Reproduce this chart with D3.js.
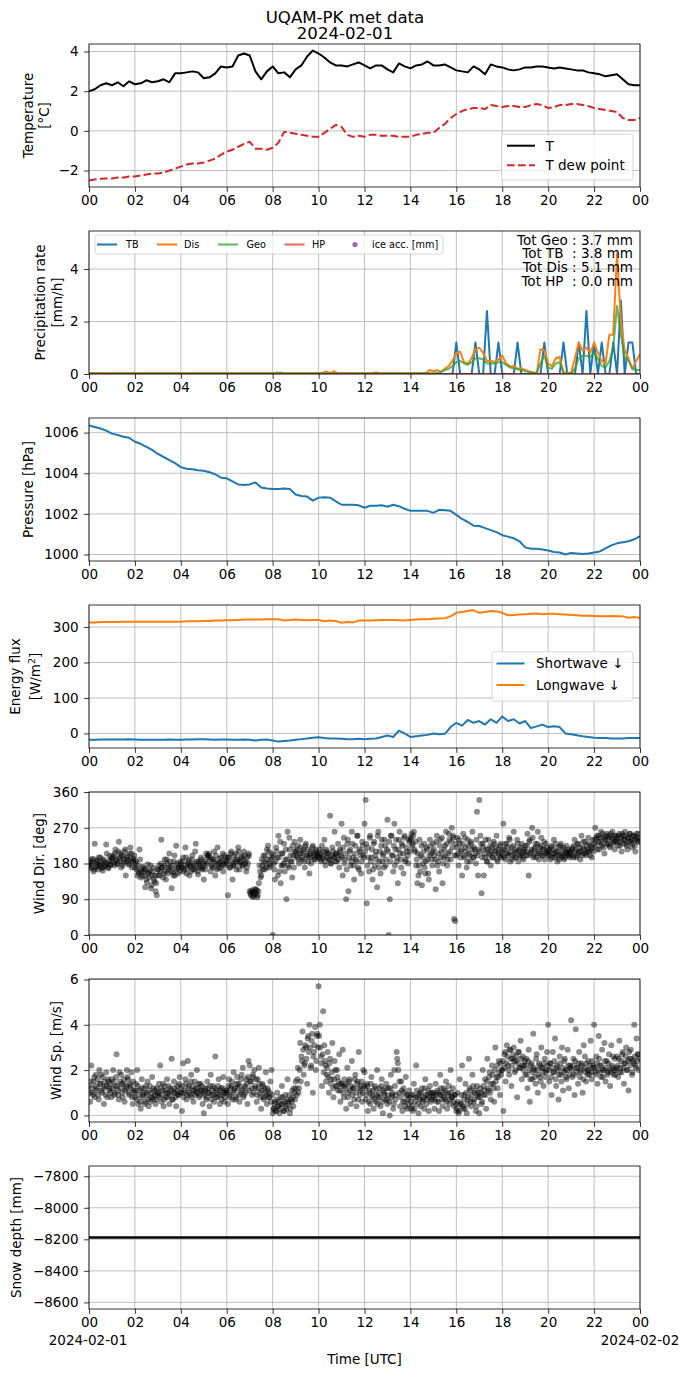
<!DOCTYPE html>
<html>
<head>
<meta charset="utf-8">
<script src="https://cdn.jsdelivr.net/npm/d3@7"></script>
<style>
  body { margin: 0; background: #fff; }
  svg { font-family: "DejaVu Sans", sans-serif; }
</style>
</head>
<body>
<svg id="chart" width="690" height="1377"></svg>
<script>
// ---- data ----
const hourTicks = [0, 2, 4, 6, 8, 10, 12, 14, 16, 18, 20, 22, 24];

// 15-minute samples, 00:00 .. 24:00
const airTemp = [
  2.0, 2.1, 2.3, 2.4,   2.3, 2.45, 2.25, 2.5,   2.35, 2.4, 2.55, 2.45,   2.5, 2.6, 2.45, 2.9,
  2.9, 2.95, 3.0, 2.95, 2.65, 2.7, 2.9, 3.25,   3.2, 3.25, 3.8, 3.9,     3.8, 3.0, 2.6, 3.0,
  3.25, 2.9, 2.95, 2.7, 3.1, 3.3, 3.75, 4.05,   3.9, 3.7, 3.45, 3.3,     3.3, 3.25, 3.35, 3.45,
  3.3, 3.15, 3.3, 3.3,  3.1, 2.95, 3.4, 3.25,   3.15, 3.3, 3.35, 3.5,    3.3, 3.3, 3.35, 3.2,
  3.05, 3.0, 2.95, 3.25, 3.1, 2.85, 3.35, 3.25, 3.2, 3.1, 3.05, 3.1,     3.2, 3.2, 3.25, 3.25,
  3.2, 3.15, 3.2, 3.15, 3.1, 3.05, 3.05, 2.95,  2.9, 2.85, 2.75, 2.8,    2.85, 2.6, 2.35, 2.3,
  2.3
];
const dewPoint = [
  -2.5, -2.45, -2.42, -2.4,  -2.4, -2.35, -2.35, -2.3,  -2.3, -2.25, -2.2, -2.15,  -2.15, -2.1, -2.0, -1.9,
  -1.8, -1.7, -1.65, -1.65,  -1.6, -1.5, -1.4, -1.2,    -1.05, -0.95, -0.8, -0.65, -0.55, -0.9, -0.9, -0.95,
  -0.85, -0.6, -0.05, -0.1,  -0.15, -0.2, -0.25, -0.3,  -0.3, -0.1, 0.1, 0.3,      0.2, -0.2, -0.3, -0.25,
  -0.3, -0.2, -0.2, -0.25,   -0.25, -0.25, -0.3, -0.3,  -0.3, -0.2, -0.15, -0.1,   -0.1, 0.15, 0.35, 0.65,
  0.85, 1.0, 1.1, 1.15,      1.15, 1.1, 1.3, 1.25,      1.2, 1.25, 1.25, 1.2,      1.2, 1.3, 1.35, 1.3,
  1.15, 1.2, 1.3, 1.3,       1.35, 1.35, 1.3, 1.25,     1.15, 1.1, 1.05, 1.0,      0.95, 0.65, 0.55, 0.55,
  0.65
];

// 10-minute samples, 00:00 .. 24:00 (mm/h)
const rateTB = [
  0,0,0,0,0,0, 0,0,0,0,0,0, 0,0,0,0,0,0, 0,0,0,0,0,0, 0,0,0,0,0,0, 0,0,0,0,0,0,
  0,0,0,0,0,0, 0,0,0,0,0,0, 0,0,0,0,0,0, 0,0,0,0,0,0, 0,0,0,0,0,0, 0,0,0,0,0,0,
  0,0,0,0,0,0, 0,0,0,0,0,0, 0,0,0,0,0,0, 0,0,0,0,0,0,
  1.2,0,0,0,0,1.2,   0,0,2.4,0,0,1.2,   0,0,0,0,1.2,0,   0,0,0,0,0,1.2,
  0,0,0,0,1.2,0,     0,0,1.2,0,2.4,0,   1.2,0,1.2,0,0,1.2, 0,2.8,0,1.2,1.2,0,
  0
];
const rateDis = [
  0.03,0.03,0.03,0.03,0.03,0.03, 0.03,0.03,0.03,0.03,0.03,0.03, 0.03,0.03,0.03,0.03,0.03,0.03,
  0.03,0.03,0.03,0.03,0.03,0.03, 0.03,0.03,0.03,0.03,0.03,0.03, 0.03,0.03,0.03,0.03,0.03,0.03,
  0.03,0.03,0.03,0.03,0.03,0.03, 0.03,0.03,0.03,0.03,0.03,0.03, 0.03,0.03,0.03,0.03,0.03,0.03,
  0.03,0.03,0.03,0.03,0.03,0.03, 0.03,0.03,0.1,0.03,0.1,0.03,   0.03,0.03,0.03,0.03,0.03,0.03,
  0.03,0.03,0.03,0.06,0.03,0.03, 0.03,0.03,0.03,0.03,0.03,0.03, 0.03,0.03,0.03,0.03,0.03,0.15,
  0.1,0.15,0.08,0.2,0.3,0.5,     0.8,0.85,0.45,0.4,0.6,0.95,    1.0,0.8,0.5,0.5,0.45,0.55,
  0.7,0.4,0.3,0.3,0.2,0.22,      0.15,0.1,0.05,0.0,0.95,0.9,    0.4,0.3,0.6,0.65,0.05,0.05,
  0.05,0.6,1.2,0.9,1.0,0.8,      1.2,0.8,0.5,0.4,1.5,1.5,       4.6,2.0,0.9,0.6,0.2,0.5,
  0.75
];
const rateGeo = [
  0.03,0.03,0.03,0.03,0.03,0.03, 0.03,0.03,0.03,0.03,0.03,0.03, 0.03,0.03,0.03,0.03,0.03,0.03,
  0.03,0.03,0.03,0.03,0.03,0.03, 0.03,0.03,0.03,0.03,0.03,0.03, 0.03,0.03,0.03,0.03,0.03,0.03,
  0.03,0.03,0.03,0.03,0.03,0.03, 0.03,0.03,0.03,0.03,0.03,0.03, 0.03,0.05,0.06,0.03,0.03,0.03,
  0.03,0.03,0.03,0.03,0.03,0.03, 0.03,0.03,0.03,0.03,0.03,0.03, 0.03,0.03,0.03,0.03,0.03,0.03,
  0.03,0.03,0.03,0.03,0.03,0.03, 0.03,0.03,0.03,0.03,0.03,0.03, 0.03,0.03,0.03,0.03,0.03,0.03,
  0.03,0.05,0.08,0.15,0.2,0.3,   0.45,0.5,0.4,0.35,0.45,0.6,    0.6,0.55,0.4,0.4,0.4,0.45,
  0.45,0.35,0.25,0.22,0.18,0.15, 0.1,0.08,0.05,0.05,0.4,0.7,    0.25,0.2,0.4,0.45,0.05,0.02,
  0.02,0.2,0.6,0.7,0.7,0.65,     0.8,0.6,0.3,0.25,0.5,1.0,      2.6,1.5,0.6,0.5,0.2,0.15,
  0.15
];
// hourly samples
const rateHP = [0,0,0,0,0,0,0,0,0,0,0,0,0,0,0,0,0,0,0,0,0,0,0,0,0];
const precipTotals = [
  "Tot Geo : 3.7 mm",
  "Tot TB  : 3.8 mm",
  "Tot Dis : 5.1 mm",
  "Tot HP  : 0.0 mm"
];

// 15-minute samples (hPa)
const pressure = [
  1006.35, 1006.28, 1006.2, 1006.1,   1005.95, 1005.88, 1005.8, 1005.75,  1005.55, 1005.45, 1005.3, 1005.15,
  1004.95, 1004.8, 1004.65, 1004.5,   1004.3, 1004.22, 1004.2, 1004.15,   1004.12, 1004.05, 1003.95, 1003.78,
  1003.75, 1003.6, 1003.45, 1003.42,  1003.45, 1003.55, 1003.3, 1003.25,  1003.22, 1003.22, 1003.25, 1003.22,
  1002.95, 1002.88, 1002.85, 1002.65, 1002.8, 1002.82, 1002.8, 1002.62,   1002.45, 1002.45, 1002.45, 1002.42,
  1002.3, 1002.4, 1002.4, 1002.42,    1002.35, 1002.45, 1002.38, 1002.25, 1002.15, 1002.15, 1002.15, 1002.15,
  1002.05, 1002.2, 1002.18, 1002.15,  1001.95, 1001.75, 1001.6, 1001.42,  1001.4, 1001.3, 1001.2, 1001.1,
  1000.95, 1000.88, 1000.8, 1000.65,  1000.35, 1000.28, 1000.28, 1000.25, 1000.2, 1000.12, 1000.1, 1000.0,
  1000.08, 1000.05, 1000.02, 1000.05, 1000.1, 1000.15, 1000.3, 1000.45,   1000.55, 1000.6, 1000.65, 1000.75,
  1000.9
];

// 15-minute samples (W/m2)
const shortwave = [
  -18, -18, -17, -17,  -17, -17, -17, -16,  -17, -18, -18, -18,  -18, -18, -17, -18,
  -18, -17, -17, -16,  -16, -17, -18, -17,  -17, -18, -18, -17,  -18, -20, -18, -17,
  -20, -23, -21, -20,  -18, -16, -14, -12,  -11, -13, -14, -14,  -15, -16, -16, -15,
  -16, -15, -14, -10,  -6, -10, 8, 0,       -10, -8, -6, -4,     0, -2, -1, 18,
  30, 22, 38, 30,      35, 25, 40, 30,      48, 35, 40, 28,      35, 15, 20, 25,
  18, 20, 18, 0,       -2, -5, -8, -10,     -12, -13, -13, -14,  -14, -14, -13, -13,
  -13
];
const longwave = [
  313, 313, 314, 314,  314, 314, 315, 315,  315, 315, 315, 315,  315, 315, 315, 315,
  315, 316, 316, 316,  317, 317, 318, 318,  319, 319, 320, 321,  321, 321, 321, 322,
  322, 322, 318, 320,  321, 320, 319, 320,  320, 316, 318, 317,  312, 314, 313, 318,
  318, 318, 319, 320,  320, 320, 319, 318,  320, 321, 322, 322,  323, 324, 325, 330,
  340, 342, 346, 347,  340, 342, 345, 344,  340, 333, 334, 335,  336, 337, 338, 336,
  337, 337, 336, 335,  334, 333, 332, 332,  331, 330, 330, 331,  330, 330, 326, 328,
  325
];

// 3-minute samples from 00:00 (one row per hour)
const windDir = [
  175,168,190,182,160,230,172,185,165,178,195,170,162,186,174,228,180,168,199,176,
  188,200,175,215,192,180,235,205,170,198,182,210,150,195,188,176,220,205,183,192,
  170,185,150,160,215,145,172,158,165,120,140,178,155,162,118,150,170,135,110,100,
  150,175,160,240,170,155,190,140,180,165,205,172,118,158,185,150,225,168,175,160,
  180,170,195,165,220,155,178,188,172,160,200,175,165,230,185,152,180,170,190,168,
  140,175,205,195,200,185,160,172,190,210,150,180,220,168,182,195,175,160,200,188,
  185,100,195,170,210,140,180,175,205,190,220,165,185,198,175,210,180,160,195,205,
  110,100,108,95,115,105,112,100,130,160,150,175,200,165,180,215,225,170,190,205,
  0,180,140,220,195,250,160,130,205,175,230,190,90,260,170,215,185,145,200,235,
  210,195,225,180,240,205,190,215,170,230,200,185,155,210,195,225,205,190,215,200,
  200,215,185,225,195,240,175,210,205,190,300,180,220,195,260,205,185,230,170,210,
  280,150,245,190,90,230,110,210,175,260,195,140,225,185,250,165,210,155,235,200,
  280,340,80,220,160,250,195,140,230,175,210,120,260,185,155,240,200,170,225,190,
  290,0,90,250,200,160,280,215,185,130,240,205,170,225,155,250,190,210,180,235,
  245,255,230,260,210,175,130,150,240,200,125,180,230,155,220,190,140,240,205,175,
  230,200,115,250,185,160,240,210,130,195,225,260,175,205,240,190,270,250,40,35,
  200,245,175,230,210,150,255,195,220,170,240,205,185,230,260,195,215,180,310,150,
  340,250,105,230,150,195,215,185,240,205,175,220,195,230,210,250,185,205,225,195,
  200,280,215,190,230,205,245,185,220,200,260,195,210,240,185,215,200,230,195,210,
  225,200,255,150,240,210,270,195,215,230,205,260,190,220,245,200,215,190,230,205,
  200,215,190,225,205,240,195,210,185,220,200,230,195,215,190,205,225,200,210,195,
  205,220,195,240,215,200,230,210,190,250,220,205,235,200,215,245,210,225,195,240,
  230,270,245,215,250,235,260,225,245,205,240,255,230,250,220,245,260,235,215,250,
  240,225,255,235,210,250,240,260,230,215,245,255,235,220,250,240,210,255,235,245
];
// 3-minute samples from 00:01:30 (in between the ones above)
const windDirMid = [
  178,185,170,192,165,180,188,172,195,176,183,168,190,174,181,205,170,186,177,193,
  195,182,205,188,178,210,193,186,200,175,190,215,185,198,180,205,192,170,188,200,
  180,165,175,155,190,160,148,170,150,165,132,158,145,175,125,160,140,150,130,165,
  165,150,180,170,145,175,160,190,155,170,185,160,175,150,200,165,180,155,170,185,
  170,185,160,175,195,168,182,150,175,190,165,180,210,170,160,185,175,195,165,180,
  185,165,180,200,205,195,175,190,170,185,200,165,178,192,170,185,205,180,175,195,
  180,195,170,205,185,175,200,190,165,185,210,180,195,175,190,200,185,170,180,200,
  105,112,98,108,102,115,95,110,175,145,190,165,185,200,170,190,210,180,175,195,
  200,165,185,210,150,195,235,175,205,180,160,215,190,175,245,200,185,225,170,210,
  200,215,190,205,220,195,210,185,225,200,215,195,205,180,220,200,190,210,205,195,
  195,205,190,210,200,185,215,195,205,190,180,200,210,195,185,205,200,190,215,200,
  195,220,180,205,165,240,195,215,185,230,175,205,190,250,170,215,200,185,225,195,
  210,230,175,195,245,185,215,165,235,200,190,250,170,210,225,185,205,240,175,215,
  210,235,185,250,200,225,175,240,195,215,260,190,230,205,245,185,220,200,240,210,
  240,225,250,215,235,190,205,175,160,225,195,210,170,185,215,155,200,225,190,210,
  215,190,235,175,205,225,195,245,180,215,200,230,190,255,210,235,220,245,200,230,
  220,205,240,195,215,230,200,245,210,185,225,200,235,215,195,220,205,240,200,215,
  210,230,195,220,205,240,185,215,200,225,210,195,235,205,220,190,215,200,230,210,
  215,195,230,205,220,200,240,210,190,225,205,215,195,230,210,200,220,205,190,215,
  210,225,200,235,205,215,245,200,220,195,230,210,205,225,200,215,235,205,220,210,
  210,200,220,195,215,205,230,200,210,190,225,205,200,220,195,210,205,215,200,210,
  215,200,225,210,195,230,205,220,210,200,235,215,205,225,210,230,200,215,220,210,
  240,225,250,235,215,245,230,255,220,240,250,230,245,225,255,240,230,250,235,245,
  235,250,225,245,255,230,240,250,225,245,235,255,240,230,250,225,245,240,255,235
];
const windSpeed = [
  1.3,0.6,2.2,1.0,1.5,0.8,1.8,1.2,0.9,2.0,1.4,1.1,1.7,0.5,1.3,1.9,0.8,1.5,1.2,1.0,
  1.6,2.0,0.9,1.3,2.7,1.1,0.7,1.5,1.8,1.0,1.4,0.6,1.2,2.0,1.6,0.9,1.3,1.9,0.5,1.1,
  0.8,1.4,2.0,0.5,1.1,0.3,1.6,0.9,1.2,0.6,1.0,1.5,0.4,1.3,0.8,1.7,0.7,1.1,0.5,1.2,
  0.9,1.4,2.2,0.6,1.1,0.4,1.3,0.8,1.6,1.0,0.5,1.2,2.5,0.7,1.5,1.0,0.4,1.3,0.9,1.7,
  1.2,0.2,2.3,1.0,1.6,0.7,2.4,1.3,0.9,1.8,1.1,0.6,1.5,1.0,2.0,1.2,0.8,1.4,1.1,0.5,
  0.1,1.2,0.7,1.5,1.0,0.4,1.8,0.9,1.3,0.6,2.6,1.1,0.8,1.6,0.5,1.2,0.9,1.7,0.6,1.0,
  1.1,0.5,1.6,0.9,1.3,0.7,1.9,1.2,0.8,1.7,1.4,0.6,1.0,1.8,2.1,0.9,1.3,1.6,0.5,2.4,
  2.2,1.5,0.9,1.8,2.0,1.2,0.6,1.6,2.1,1.0,0.3,1.4,0.8,1.2,1.9,0.5,1.1,0.8,1.5,2.0,
  0.1,0.3,0.6,0.2,1.0,0.4,0.1,0.8,1.3,0.5,0.2,0.9,0.3,1.6,0.6,0.1,0.7,1.1,0.4,1.0,
  1.5,0.9,2.1,1.2,3.2,2.6,3.7,1.8,2.3,3.0,1.4,3.5,4.0,2.1,3.3,1.0,2.8,3.9,2.4,3.6,
  5.7,4.0,2.6,1.3,4.6,3.1,2.2,1.8,2.8,1.0,2.5,1.6,3.2,0.8,2.4,1.3,2.0,1.1,2.7,0.6,
  1.4,2.9,0.8,1.3,0.3,2.1,1.0,1.6,0.5,2.4,1.2,0.7,1.8,0.4,1.5,2.8,0.9,1.3,0.6,2.0,
  1.9,0.7,1.4,0.2,1.1,0.5,1.7,0.9,0.3,1.3,0.6,2.0,0.8,1.2,0.4,1.6,0.1,1.0,0.7,1.4,
  0.5,1.2,0.0,1.8,0.9,0.3,2.0,0.7,2.8,2.3,1.0,0.4,1.5,0.2,1.2,0.6,1.7,0.3,0.9,1.1,
  0.3,0.9,0.2,1.4,0.6,2.2,0.8,0.1,1.0,0.4,1.2,0.7,0.3,1.6,0.5,0.9,0.2,1.3,0.6,1.0,
  0.8,0.3,1.4,0.6,1.0,0.2,1.8,0.9,0.4,1.2,0.7,1.5,0.3,1.0,0.5,2.0,0.8,1.2,0.4,0.9,
  0.2,1.0,0.1,1.6,0.5,2.2,0.3,0.9,1.4,0.1,0.7,2.5,1.1,0.4,1.8,0.6,1.0,0.2,1.3,0.8,
  0.1,1.2,0.5,2.0,0.9,1.6,0.3,2.5,1.1,1.9,0.7,2.2,1.4,0.6,3.0,1.7,1.2,2.4,0.9,1.8,
  2.0,0.2,2.7,1.5,3.1,2.2,1.8,2.9,1.3,2.5,3.0,1.9,2.4,0.8,2.8,2.1,3.3,1.6,2.6,2.2,
  1.8,2.5,1.2,2.9,0.6,2.2,1.6,3.6,2.0,1.4,2.7,1.0,2.3,1.7,3.0,2.1,1.3,2.5,1.9,2.8,
  4.0,1.5,2.3,0.9,2.8,1.9,3.4,1.3,2.1,0.7,2.6,1.8,3.0,1.1,2.4,2.0,1.6,2.9,1.2,2.2,
  4.2,1.7,2.5,0.9,3.8,2.1,1.4,2.8,1.9,2.3,1.0,3.1,2.6,1.5,2.0,2.4,1.8,3.3,1.6,2.2,
  4.0,1.9,2.6,1.4,3.5,2.2,1.7,2.9,2.0,3.2,1.5,2.4,1.9,2.7,1.3,3.1,2.1,1.8,2.5,2.0,
  2.6,1.7,3.3,2.1,1.9,2.8,1.4,2.3,3.0,2.0,1.1,2.5,2.9,1.8,2.4,4.0,2.2,3.4,2.7,2.0
];
const windSpeedMid = [
  1.0,1.5,1.2,0.9,1.7,1.3,1.1,1.6,0.7,1.4,1.8,1.0,1.2,1.5,0.9,1.3,1.6,1.1,1.4,0.8,
  1.2,1.5,1.0,1.7,1.3,0.9,1.9,1.2,1.4,0.8,1.6,1.1,1.3,1.7,1.0,1.4,1.2,0.8,1.5,1.0,
  1.1,0.7,1.3,0.9,0.6,1.2,0.8,1.0,0.5,1.3,0.9,0.7,1.1,0.6,1.0,0.8,1.2,0.9,0.7,1.0,
  1.0,0.8,1.2,0.9,1.4,0.7,1.1,1.0,0.8,1.3,0.9,1.1,0.7,1.0,1.2,0.8,1.1,0.9,1.4,1.0,
  1.0,1.3,0.8,1.1,1.4,0.9,1.2,1.0,1.5,0.8,1.3,1.1,0.9,1.2,1.0,1.4,0.9,1.1,1.3,1.0,
  0.9,1.1,0.8,1.2,1.0,1.3,0.7,1.1,0.9,1.2,0.8,1.0,1.3,0.9,1.1,0.7,1.2,1.0,0.8,1.1,
  1.0,1.3,0.8,1.2,1.5,1.0,1.1,0.7,1.4,1.2,0.9,1.3,1.6,1.1,0.8,1.2,1.0,1.4,1.7,1.1,
  1.5,1.2,1.7,1.0,1.3,1.6,0.9,1.2,1.4,0.8,1.1,1.3,0.7,1.0,0.9,1.2,0.8,1.0,0.6,0.9,
  0.3,0.5,0.2,0.7,0.4,0.6,0.3,0.5,0.8,0.2,0.6,0.4,0.7,0.5,0.9,0.3,0.6,0.8,1.2,0.7,
  1.2,1.6,1.0,2.0,1.5,2.4,2.9,2.2,3.1,2.5,3.4,2.8,3.0,2.2,3.6,2.6,3.1,2.0,3.5,3.0,
  3.5,3.0,2.3,2.7,1.9,2.4,1.5,2.1,1.7,2.3,1.4,1.9,1.2,1.6,2.0,1.3,1.7,1.5,1.1,1.4,
  1.3,1.0,1.6,1.2,1.4,0.8,1.5,1.1,1.3,0.9,1.2,1.6,1.0,1.4,0.7,1.2,1.1,1.5,1.0,1.3,
  1.2,0.9,1.3,0.6,1.0,1.4,0.8,1.1,0.7,1.2,0.9,0.5,1.0,0.8,1.3,0.6,1.1,0.9,1.2,0.7,
  0.9,0.6,1.2,0.8,1.0,0.5,1.3,0.9,2.5,2.0,1.5,0.8,1.1,0.6,1.0,0.4,0.9,0.7,0.5,0.8,
  0.6,0.4,0.9,0.3,0.8,1.1,0.5,0.9,0.7,1.0,0.6,0.8,1.2,0.9,0.7,1.1,0.8,1.0,0.7,0.9,
  1.0,0.7,0.9,1.1,0.6,0.9,1.2,0.7,1.0,0.8,1.1,0.6,0.9,1.3,0.7,1.0,0.8,0.6,0.9,0.5,
  0.3,0.6,0.2,0.5,0.9,0.4,0.7,0.3,1.0,0.5,0.8,1.2,0.6,0.9,1.3,0.7,1.1,0.4,0.9,1.0,
  0.8,1.0,0.6,1.3,1.1,0.9,1.5,1.2,1.7,1.0,1.4,1.8,1.2,2.0,1.5,2.2,1.7,1.9,2.3,2.0,
  2.4,2.1,2.8,2.3,2.6,2.0,2.9,2.5,2.2,2.7,2.4,2.0,2.6,2.3,2.8,2.1,2.5,2.2,2.0,2.4,
  2.2,1.8,2.4,2.0,1.6,2.3,1.9,2.1,1.7,2.5,2.0,1.8,2.2,1.5,2.1,1.9,2.3,1.7,2.0,2.2,
  2.0,2.3,1.7,2.1,1.9,2.4,1.6,2.2,2.0,1.8,2.3,1.5,2.1,1.9,2.5,1.7,2.0,2.2,1.8,2.1,
  2.0,2.2,1.8,2.4,1.9,2.1,2.3,1.7,2.0,2.2,1.6,2.1,1.9,2.3,1.8,2.0,2.2,1.9,2.4,2.1,
  2.1,1.8,2.3,2.0,2.5,1.9,2.2,1.7,2.0,2.4,2.1,1.8,2.3,2.0,1.9,2.2,2.6,2.0,1.8,2.1,
  2.2,2.5,1.9,2.4,2.7,2.1,2.3,2.6,2.0,2.4,2.8,2.2,2.5,1.9,2.3,2.6,2.1,2.4,2.7,2.5
];

// hourly samples (mm)
const snowDepth = [
  -8188,-8188,-8188,-8188,-8188,-8188,-8188,-8188,-8188,-8188,-8188,-8188,-8188,
  -8188,-8188,-8188,-8188,-8188,-8188,-8188,-8188,-8188,-8188,-8188,-8188
];

// ---- layout ----
const plotLeft = 89, plotRight = 640;
const panelTop = 44, panelStep = 187, panelHeight = 143;
const tickFont = 13.5;

const svg = d3.select("#chart");
const x = d3.scaleLinear().domain([0, 24]).range([plotLeft, plotRight]);
const hourFmt = h => String(h % 24).padStart(2, "0");

function makePanel(i, yDomain, yTicks) {
  const top = panelTop + i * panelStep;
  const bottom = top + panelHeight;
  const y = d3.scaleLinear().domain(yDomain).range([bottom, top]);
  const g = svg.append("g");

  svg.append("clipPath").attr("id", "clip" + i)
    .append("rect")
    .attr("x", plotLeft).attr("y", top)
    .attr("width", plotRight - plotLeft).attr("height", panelHeight);

  g.append("g").selectAll("line").data(hourTicks).join("line")
    .attr("x1", d => x(d)).attr("x2", d => x(d))
    .attr("y1", top).attr("y2", bottom)
    .attr("stroke", "#b0b0b0").attr("stroke-width", 0.8);
  g.append("g").selectAll("line").data(yTicks).join("line")
    .attr("x1", plotLeft).attr("x2", plotRight)
    .attr("y1", d => y(d)).attr("y2", d => y(d))
    .attr("stroke", "#b0b0b0").attr("stroke-width", 0.8);

  const plot = g.append("g").attr("clip-path", `url(#clip${i})`);
  return { g, plot, y, top, bottom, yTicks };
}

function finishPanel(p, fmt) {
  const xa = p.g.append("g")
    .attr("transform", `translate(0,${p.bottom})`)
    .call(d3.axisBottom(x).tickValues(hourTicks).tickFormat(hourFmt)
      .tickSize(4.9).tickSizeOuter(0).tickPadding(3.5));
  const ya = p.g.append("g")
    .attr("transform", `translate(${plotLeft},0)`)
    .call(d3.axisLeft(p.y).tickValues(p.yTicks).tickFormat(fmt)
      .tickSize(4.9).tickSizeOuter(0).tickPadding(5.5));
  [xa, ya].forEach(a => {
    a.attr("font-size", tickFont).attr("font-family", null);
    a.selectAll("line").attr("stroke-width", 0.8);
    a.select(".domain").remove();
    a.selectAll("text").attr("fill", "#000");
  });
  p.g.append("rect")
    .attr("x", plotLeft).attr("y", p.top)
    .attr("width", plotRight - plotLeft).attr("height", panelHeight)
    .attr("fill", "none").attr("stroke", "#000").attr("stroke-width", 0.8);
}

function drawLine(p, values, step, color, opts = {}) {
  const line = d3.line().x((d, i) => x(i * step)).y(d => p.y(d));
  p.plot.append("path").datum(values)
    .attr("d", line)
    .attr("fill", "none")
    .attr("stroke", color)
    .attr("stroke-width", opts.width || 2)
    .attr("stroke-opacity", opts.opacity || 1)
    .attr("stroke-dasharray", opts.dash || null)
    .attr("stroke-linejoin", "round");
}

function drawScatter(p, values, step, start) {
  p.plot.append("g").selectAll("circle").data(values).join("circle")
    .attr("cx", (d, i) => x(start + i * step))
    .attr("cy", d => p.y(d))
    .attr("r", 3)
    .attr("fill", "#000")
    .attr("fill-opacity", 0.45);
}

function yLabel(p, lines, xs) {
  const cy = (p.top + p.bottom) / 2;
  lines.forEach((txt, k) => {
    const t = svg.append("text")
      .attr("transform", `translate(${xs[k]},${cy}) rotate(-90)`)
      .attr("text-anchor", "middle")
      .attr("dy", "0.35em")
      .attr("font-size", tickFont);
    if (typeof txt === "string") t.text(txt);
    else txt(t);
  });
}

function legendBox(x0, y0, w, h) {
  svg.append("rect")
    .attr("x", x0).attr("y", y0).attr("width", w).attr("height", h)
    .attr("rx", 2.5)
    .attr("fill", "#fff").attr("fill-opacity", 0.8)
    .attr("stroke", "#cccccc").attr("stroke-width", 0.8);
}

const numFmt = d3.format("d");

// ---- title ----
svg.append("text").attr("x", 345).attr("y", 22.5).attr("text-anchor", "middle")
  .attr("font-size", 16.6).text("UQAM-PK met data");
svg.append("text").attr("x", 345).attr("y", 39.2).attr("text-anchor", "middle")
  .attr("font-size", 16.6).text("2024-02-01");

// ---- panel 1: temperature ----
const p1 = makePanel(0, [-2.83, 4.38], [-2, 0, 2, 4]);
drawLine(p1, airTemp, 0.25, "#000");
drawLine(p1, dewPoint, 0.25, "#d62728", { dash: "7.7,3.3" });
finishPanel(p1, numFmt);
yLabel(p1, ["Temperature", "[°C]"], [28.6, 44.5]);
legendBox(501.5, 134.3, 131.5, 45.7);
[
  { label: "T", color: "#000", dash: null, y: 145.7 },
  { label: "T dew point", color: "#d62728", dash: "7.7,3.3", y: 165.3 }
].forEach(e => {
  svg.append("line").attr("x1", 507).attr("x2", 535).attr("y1", e.y).attr("y2", e.y)
    .attr("stroke", e.color).attr("stroke-width", 2).attr("stroke-dasharray", e.dash);
  svg.append("text").attr("x", 545.5).attr("y", e.y).attr("dy", "0.36em")
    .attr("font-size", tickFont).text(e.label);
});

// ---- panel 2: precipitation ----
const p2 = makePanel(1, [0, 5.45], [0, 2, 4]);
drawLine(p2, rateTB, 1 / 6, "#1f77b4");
drawLine(p2, rateDis, 1 / 6, "#ff7f0e");
drawLine(p2, rateGeo, 1 / 6, "#2ca02c", { opacity: 0.75 });
drawLine(p2, rateHP, 1, "#d62728", { opacity: 0.7 });
finishPanel(p2, numFmt);
yLabel(p2, ["Precipitation rate", "[mm/h]"], [40.5, 57]);
legendBox(95, 235, 348, 19);
const legFont = 9.7, legY = 244.5;
[
  { label: "TB", color: "#1f77b4", op: 1, x0: 97, tx: 126 },
  { label: "Dis", color: "#ff7f0e", op: 1, x0: 157, tx: 184 },
  { label: "Geo", color: "#2ca02c", op: 0.75, x0: 218, tx: 246.5 },
  { label: "HP", color: "#d62728", op: 0.7, x0: 284.5, tx: 312 }
].forEach(e => {
  svg.append("line").attr("x1", e.x0).attr("x2", e.x0 + 20).attr("y1", legY).attr("y2", legY)
    .attr("stroke", e.color).attr("stroke-opacity", e.op).attr("stroke-width", 2);
  svg.append("text").attr("x", e.tx).attr("y", legY).attr("dy", "0.36em")
    .attr("font-size", legFont).text(e.label);
});
svg.append("circle").attr("cx", 355).attr("cy", legY).attr("r", 2.6).attr("fill", "#9467bd");
svg.append("text").attr("x", 372).attr("y", legY).attr("dy", "0.36em")
  .attr("font-size", legFont).text("ice acc. [mm]");
svg.append("g").selectAll("text").data(precipTotals).join("text")
  .attr("x", 633)
  .attr("y", (d, i) => 239.7 + i * 13.7)
  .attr("dy", "0.36em")
  .attr("text-anchor", "end")
  .attr("font-size", tickFont)
  .style("white-space", "pre")
  .text(d => d);

// ---- panel 3: pressure ----
const p3 = makePanel(2, [999.68, 1006.72], [1000, 1002, 1004, 1006]);
drawLine(p3, pressure, 0.25, "#1f77b4");
finishPanel(p3, numFmt);
yLabel(p3, ["Pressure [hPa]"], [28.6]);

// ---- panel 4: energy flux ----
const p4 = makePanel(3, [-41, 362], [0, 100, 200, 300]);
drawLine(p4, shortwave, 0.25, "#1f77b4");
drawLine(p4, longwave, 0.25, "#ff7f0e");
finishPanel(p4, numFmt);
yLabel(p4, [
  "Energy flux",
  t => {
    t.append("tspan").text("[W/m");
    t.append("tspan").attr("font-size", 9.5).attr("dy", "-0.45em").text("2");
    t.append("tspan").attr("dy", "0.3em").text("]");
  }
], [15.4, 35]);
legendBox(492, 651.7, 141, 49.3);
[
  { label: "Shortwave \u2193", color: "#1f77b4", y: 663.5 },
  { label: "Longwave \u2193", color: "#ff7f0e", y: 685 }
].forEach(e => {
  svg.append("line").attr("x1", 496.5).attr("x2", 524.5).attr("y1", e.y).attr("y2", e.y)
    .attr("stroke", e.color).attr("stroke-width", 2);
  svg.append("text").attr("x", 536).attr("y", e.y).attr("dy", "0.36em")
    .attr("font-size", tickFont).text(e.label);
});

// ---- panel 5: wind direction ----
const p5 = makePanel(4, [0, 360], [0, 90, 180, 270, 360]);
drawScatter(p5, windDir, 0.05, 0);
drawScatter(p5, windDirMid, 0.05, 0.025);
finishPanel(p5, numFmt);
yLabel(p5, ["Wind Dir. [deg]"], [39.6]);

// ---- panel 6: wind speed ----
const p6 = makePanel(5, [-0.29, 6.02], [0, 2, 4, 6]);
drawScatter(p6, windSpeed, 0.05, 0);
drawScatter(p6, windSpeedMid, 0.05, 0.025);
finishPanel(p6, numFmt);
yLabel(p6, ["Wind Sp. [m/s]"], [56]);

// ---- panel 7: snow depth ----
const p7 = makePanel(6, [-8642, -7735], [-8600, -8400, -8200, -8000, -7800]);
drawLine(p7, snowDepth, 1, "#000", { width: 2.5 });
finishPanel(p7, numFmt);
yLabel(p7, ["Snow depth [mm]"], [16.7]);

svg.append("text").attr("x", 88).attr("y", 1345).attr("text-anchor", "middle")
  .attr("font-size", tickFont).text("2024-02-01");
svg.append("text").attr("x", 640).attr("y", 1345).attr("text-anchor", "middle")
  .attr("font-size", tickFont).text("2024-02-02");
svg.append("text").attr("x", 364.5).attr("y", 1364).attr("text-anchor", "middle")
  .attr("font-size", tickFont).text("Time [UTC]");
</script>
</body>
</html>
